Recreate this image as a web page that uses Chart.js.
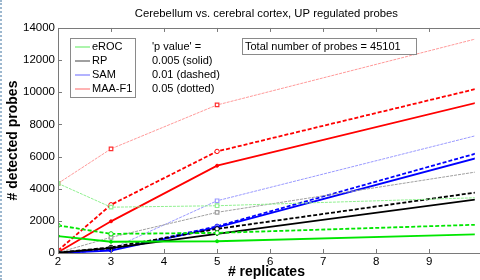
<!DOCTYPE html>
<html>
<head>
<meta charset="utf-8">
<script src="https://cdn.jsdelivr.net/npm/chart.js@4/dist/chart.umd.min.js"></script>
<style>
  html, body { margin: 0; padding: 0; background: #fff; }
  #wrap { position: relative; width: 480px; height: 280px; }
  #edge { position: absolute; left: 0; top: 0; width: 0; height: 280px; border-left: 2px dotted #9db8cf; }
</style>
</head>
<body>
<div id="wrap">
  <canvas id="chart" width="480" height="280"></canvas>
  <div id="edge"></div>
</div>
<script>
// number of replicates
const replicates = [2, 3, 5, 10];

// detected probes, one array per method and p value
const erocSolid = [1050, 700, 730, 1170];
const erocDashed = [1720, 1190, 1250, 1770];
const erocDotted = [4330, 2850, 2940, 3450];

const rpSolid = [20, 300, 1190, 3380];
const rpDashed = [20, 350, 1500, 3820];
const rpDotted = [20, 975, 2530, 5100];

const samSolid = [0, 150, 1600, 6000];
const samDashed = [0, 200, 1660, 6300];
const samDotted = [0, 250, 3250, 7400];

const maaSolid = [50, 1970, 5430, 9430];
const maaDashed = [150, 3000, 6320, 10300];
const maaDotted = [4330, 6480, 9210, 13420];

const yTicks = [0, 2000, 4000, 6000, 8000, 10000, 12000, 14000];
const xTicks = [2, 3, 4, 5, 6, 7, 8, 9];

const legendNames = ["eROC", "RP", "SAM", "MAA-F1"];
const pValueLines = ["'p value' =", "0.005 (solid)", "0.01 (dashed)", "0.05 (dotted)"];
const totalText = "Total number of probes = 45101";

const FONT = "'Liberation Sans', Arial, sans-serif";

const colors = {
    eroc: { strong: "#00e600", light: "#90f090" },
    rp: { strong: "#000000", light: "#a0a0a0" },
    sam: { strong: "#0000ff", light: "#9a9aff" },
    maa: { strong: "#ff0000", light: "#ff9a9a" }
};

const toPoints = (values) => values.map((v, i) => ({ x: replicates[i], y: v }));

const makeSet = (label, values, color, style) => {
    const set = {
        label: label,
        data: toPoints(values),
        borderColor: color,
        backgroundColor: color,
        fill: false,
        tension: 0,
        pointBorderColor: color,
        pointBackgroundColor: "#fff",
        pointBorderWidth: 1
    };
    if (style === "solid") {
        set.borderWidth = 1.8;
        set.pointStyle = "circle";
        set.pointRadius = 1.5;
        set.pointBackgroundColor = color;
    } else if (style === "dashed") {
        set.borderWidth = 1.8;
        set.borderDash = [4, 2];
        set.pointStyle = "circle";
        set.pointRadius = 2.2;
    } else {
        set.borderWidth = 1;
        set.borderDash = [3, 1];
        set.pointStyle = "rect";
        set.pointRadius = 2.5;
        set.pointBorderWidth = 1.2;
        set.pointBorderColor = color === colors.maa.light ? "#ff3030" : color;
    }
    return set;
};

const datasets = [
    makeSet("eROC solid", erocSolid, colors.eroc.strong, "solid"),
    makeSet("eROC dashed", erocDashed, colors.eroc.strong, "dashed"),
    makeSet("eROC dotted", erocDotted, colors.eroc.light, "dotted"),
    makeSet("RP solid", rpSolid, colors.rp.strong, "solid"),
    makeSet("RP dashed", rpDashed, colors.rp.strong, "dashed"),
    makeSet("RP dotted", rpDotted, colors.rp.light, "dotted"),
    makeSet("SAM solid", samSolid, colors.sam.strong, "solid"),
    makeSet("SAM dashed", samDashed, colors.sam.strong, "dashed"),
    makeSet("SAM dotted", samDotted, colors.sam.light, "dotted"),
    makeSet("MAA-F1 solid", maaSolid, colors.maa.strong, "solid"),
    makeSet("MAA-F1 dashed", maaDashed, colors.maa.strong, "dashed"),
    makeSet("MAA-F1 dotted", maaDotted, colors.maa.light, "dotted")
];

// axes box with inward ticks, legend box and the two notes
const annotations = {
    id: "annotations",
    afterDraw(chart) {
        const ctx = chart.ctx;
        const area = chart.chartArea;
        const xs = chart.scales.x;
        const ys = chart.scales.y;
        ctx.save();

        // frame
        ctx.strokeStyle = "#7a7a7a";
        ctx.lineWidth = 1;
        ctx.beginPath();
        ctx.moveTo(area.right + 10, Math.round(area.top) + 0.5);
        ctx.lineTo(Math.round(area.left) + 0.5, Math.round(area.top) + 0.5);
        ctx.lineTo(Math.round(area.left) + 0.5, Math.round(area.bottom) + 0.5);
        ctx.lineTo(area.right + 10, Math.round(area.bottom) + 0.5);
        ctx.stroke();

        ctx.beginPath();
        xTicks.forEach((t) => {
            const px = Math.round(xs.getPixelForValue(t)) + 0.5;
            ctx.moveTo(px, area.bottom);
            ctx.lineTo(px, area.bottom - 4);
            ctx.moveTo(px, area.top);
            ctx.lineTo(px, area.top + 4);
        });
        yTicks.forEach((t) => {
            const py = Math.round(ys.getPixelForValue(t)) + 0.5;
            ctx.moveTo(area.left, py);
            ctx.lineTo(area.left + 4, py);
        });
        ctx.stroke();

        // legend
        const lx = 70, ly = 38, lw = 65, lh = 59;
        ctx.fillStyle = "#fff";
        ctx.fillRect(lx, ly, lw, lh);
        ctx.strokeStyle = "#8a8a8a";
        ctx.strokeRect(lx + 0.5, ly + 0.5, lw, lh);
        const legendColors = [colors.eroc.light, colors.rp.light, colors.sam.light, colors.maa.light];
        ctx.font = "11px " + FONT;
        ctx.textBaseline = "middle";
        ctx.textAlign = "left";
        legendNames.forEach((name, i) => {
            const y = ly + 9 + i * 14;
            ctx.strokeStyle = i === 1 ? "#808080" : legendColors[i];
            ctx.lineWidth = 1.5;
            ctx.beginPath();
            ctx.moveTo(lx + 5, y);
            ctx.lineTo(lx + 20, y);
            ctx.stroke();
            ctx.fillStyle = "#000";
            ctx.fillText(name, lx + 22, y);
        });

        // p value note
        pValueLines.forEach((line, i) => {
            ctx.fillText(line, 152, 47 + i * 14);
        });

        // total box
        ctx.fillStyle = "#fff";
        ctx.fillRect(242, 38, 174, 16);
        ctx.strokeStyle = "#8a8a8a";
        ctx.lineWidth = 1;
        ctx.strokeRect(242.5, 38.5, 174, 16);
        ctx.fillStyle = "#000";
        ctx.fillText(totalText, 245, 47);

        ctx.restore();
    }
};

new Chart(document.getElementById("chart"), {
    type: "line",
    data: { datasets: datasets },
    options: {
        responsive: false,
        animation: false,
        layout: { padding: { left: 0, right: 0, top: 0, bottom: 0 } },
        plugins: {
            legend: { display: false },
            tooltip: { enabled: false },
            title: {
                display: true,
                text: "Cerebellum vs. cerebral cortex, UP regulated probes",
                color: "#000",
                font: { family: FONT, size: 11.3, weight: "normal" },
                padding: { top: 7.5, bottom: 6.9 },
                fullSize: false
            }
        },
        scales: {
            x: {
                type: "linear",
                min: 2,
                max: 9.86,
                border: { display: false },
                grid: { display: false, drawTicks: false },
                afterBuildTicks: (scale) => {
                    scale.ticks = xTicks.map((v) => ({ value: v }));
                },
                afterFit: (scale) => { scale.height = 27; },
                ticks: {
                    color: "#000",
                    padding: 2,
                    maxRotation: 0,
                    font: { family: FONT, size: 11.5 },
                    callback: (v) => String(v)
                },
                title: {
                    display: true,
                    text: "# replicates",
                    color: "#000",
                    padding: { top: 0, bottom: -1 },
                    font: { family: FONT, size: 14, weight: "bold" }
                }
            },
            y: {
                type: "linear",
                min: 0,
                max: 14000,
                border: { display: false },
                grid: { display: false, drawTicks: false },
                afterBuildTicks: (scale) => {
                    scale.ticks = yTicks.map((v) => ({ value: v }));
                },
                afterFit: (scale) => { scale.width = 58; },
                ticks: {
                    color: "#000",
                    padding: 3,
                    font: { family: FONT, size: 11.5 },
                    callback: (v) => String(v)
                },
                title: {
                    display: true,
                    text: "# detected probes",
                    color: "#000",
                    padding: { top: 5, bottom: 0 },
                    font: { family: FONT, size: 14, weight: "bold" }
                }
            }
        }
    },
    plugins: [annotations]
});
</script>
</body>
</html>
